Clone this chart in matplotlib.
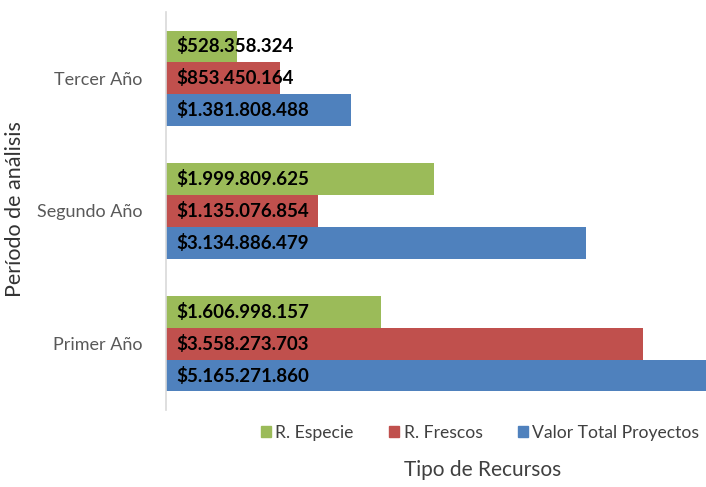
import numpy as np
import matplotlib.pyplot as plt
from matplotlib.patches import Patch

periodos = ['Primer Año', 'Segundo Año', 'Tercer Año']
r_especie = [1606998157, 1999809625, 528358324]
r_frescos = [3558273703, 1135076854, 853450164]
valor_total = [5165271860, 3134886479, 1381808488]

series = [
    ('R. Especie', r_especie, '#9BBB59'),
    ('R. Frescos', r_frescos, '#C0504D'),
    ('Valor Total Proyectos', valor_total, '#4F81BD'),
]

def fmt(v):
    return '$' + f'{v:,}'.replace(',', '.')

plt.rcParams['font.family'] = ['Lato', 'DejaVu Sans']

fig = plt.figure(figsize=(7.06, 4.87), dpi=100)
ax = fig.add_axes([166 / 706, 1 - 410 / 487, 540 / 706, 398 / 487])

y = np.arange(len(periodos))
h = 0.24
for i, (nombre, vals, color) in enumerate(series):
    pos = y + (1 - i) * h
    ax.barh(pos, vals, height=h, color=color, label=nombre)
    for p, v in zip(pos, vals):
        ax.text(0.08e9, p, fmt(v), va='center', ha='left',
                fontsize=13.5, fontweight='bold', color='black')

ax.set_xlim(0, 4.03e9)
ax.set_ylim(-0.5, 2.5)
ax.set_yticks(y)
ax.set_yticklabels(periodos, fontsize=13, color='#595959')
ax.tick_params(axis='y', length=0, pad=17)
ax.set_xticks([])
for s in ['top', 'right', 'bottom']:
    ax.spines[s].set_visible(False)
ax.spines['left'].set_color('#D9D9D9')
ax.spines['left'].set_linewidth(1.2)

fig.text(15 / 706, 1 - 209 / 487, 'Período de análisis', rotation=90,
         va='center', ha='center', fontsize=15.5, color='#333333')
fig.text(483 / 706, 1 - 470 / 487, 'Tipo de Recursos',
         va='center', ha='center', fontsize=15, color='#404040')

handles = [Patch(color=c, label=n) for n, _, c in series]
fig.legend(handles=handles, loc='center', bbox_to_anchor=(480 / 706, 1 - 433 / 487),
           ncol=3, frameon=False, fontsize=12.6, handlelength=0.6, handleheight=0.6,
           handletextpad=0.25, columnspacing=2.0, labelcolor='#404040')

fig.savefig('out.png', dpi=100)
